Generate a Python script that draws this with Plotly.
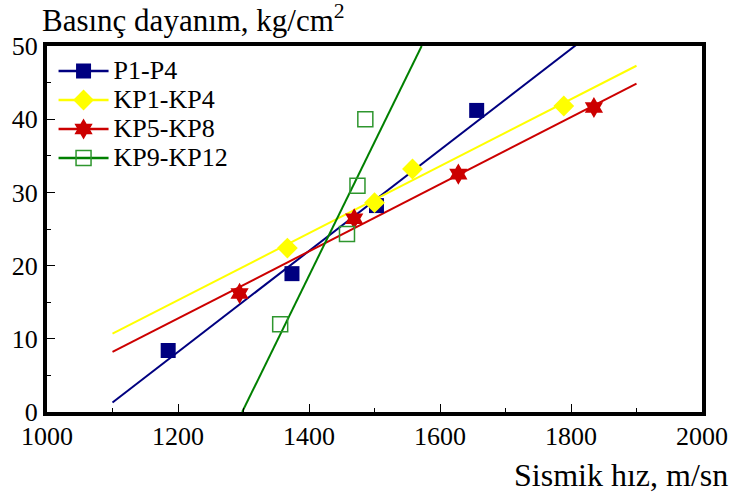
import plotly.graph_objects as go

# ---- data ----
series_names = ["P1-P4", "KP1-KP4", "KP5-KP8", "KP9-KP12"]

p_x = [1185, 1374, 1503, 1656]
p_y = [8.4, 18.9, 28.2, 41.2]

kp1_x = [1367, 1500, 1558, 1789]
kp1_y = [22.4, 28.6, 33.2, 41.8]

kp5_x = [1294, 1469, 1628, 1835]
kp5_y = [16.2, 26.4, 32.5, 41.6]

kp9_x = [1356, 1458, 1474, 1486]
kp9_y = [12.0, 24.3, 30.9, 40.0]

# trend line end points
p_fit_x = [1100, 1900]
p_fit_y = [1.3, 56.5]
kp1_fit_x = [1100, 1900]
kp1_fit_y = [10.7, 47.3]
kp5_fit_x = [1100, 1900]
kp5_fit_y = [8.2, 44.85]
kp9_fit_x = [1298, 1572]
kp9_fit_y = [0.0, 50.0]

x_ticks = [1000, 1200, 1400, 1600, 1800, 2000]
y_ticks = [0, 10, 20, 30, 40, 50]

# ---- styles ----
FONT = "Liberation Serif"
styles = [
    dict(line_color="#000080", marker=dict(symbol="square", size=15, color="#000080")),
    dict(line_color="#FFFF00", marker=dict(symbol="diamond", size=16, color="#FFFF00")),
    dict(line_color="#CC0000", marker=dict(symbol="hexagram", size=16, color="#CC0000")),
    dict(line_color="#008000", marker=dict(symbol="square-open", size=15, color="#2E962E",
                                           line=dict(width=1.5, color="#2E962E"))),
]
points = [(p_x, p_y), (kp1_x, kp1_y), (kp5_x, kp5_y), (kp9_x, kp9_y)]
fits = [(p_fit_x, p_fit_y), (kp1_fit_x, kp1_fit_y), (kp5_fit_x, kp5_fit_y), (kp9_fit_x, kp9_fit_y)]

fig = go.Figure()

# legend entries (line + marker)
for name, st in zip(series_names, styles):
    fig.add_trace(go.Scatter(x=[None], y=[None], mode="lines+markers",
                             name='<span style="font-size:26px">%s</span>' % name,
                             line=dict(color=st["line_color"], width=2.5),
                             marker=st["marker"], showlegend=True))

# trend lines
for name, st, (fx, fy) in zip(series_names, styles, fits):
    fig.add_trace(go.Scatter(x=fx, y=fy, mode="lines", showlegend=False, hoverinfo="skip",
                             line=dict(color=st["line_color"], width=2)))

# data points
for name, st, (px, py) in zip(series_names, styles, points):
    fig.add_trace(go.Scatter(x=px, y=py, mode="markers", showlegend=False, name=name,
                             marker=st["marker"], cliponaxis=False))

axis_common = dict(
    showgrid=False, zeroline=False, showline=True, linecolor="black", linewidth=4,
    mirror=True, ticks="inside", ticklen=8, tickwidth=1, tickcolor="black",
    tickfont=dict(family=FONT, size=26, color="black"),
)

fig.update_xaxes(range=[1000, 2000], tickvals=x_ticks, ticktext=[str(v) for v in x_ticks],
                 minor=dict(ticks="inside", ticklen=4, tickwidth=1, tickcolor="black", dtick=100),
                 ticklabelstandoff=-2,
                 **axis_common)
fig.update_yaxes(range=[0, 50], tickvals=y_ticks, ticktext=[str(v) for v in y_ticks],
                 minor=dict(ticks="inside", ticklen=4, tickwidth=1, tickcolor="black", dtick=5),
                 **axis_common)

fig.update_layout(
    width=740, height=497,
    margin=dict(l=43, r=31, t=46, b=85),
    paper_bgcolor="white", plot_bgcolor="white",
    font=dict(family=FONT, color="black"),
    showlegend=True,
    legend=dict(x=0.01, y=0.985, xanchor="left", yanchor="top",
                bgcolor="rgba(0,0,0,0)", borderwidth=0,
                font=dict(family=FONT, size=20, color="black"),
                itemwidth=50, tracegroupgap=0),
    annotations=[
        dict(text="Basınç dayanım, kg/cm<sup>2</sup>", xref="paper", yref="paper",
             x=-0.011, y=1.075, xanchor="left", yanchor="middle", showarrow=False,
             font=dict(family=FONT, size=31, color="black")),
        dict(text="Sismik hız, m/sn", xref="paper", yref="paper",
             x=1.0435, y=-0.172, xanchor="right", yanchor="middle", showarrow=False,
             font=dict(family=FONT, size=32, color="black")),
    ],
)

fig.write_html("out.html")
